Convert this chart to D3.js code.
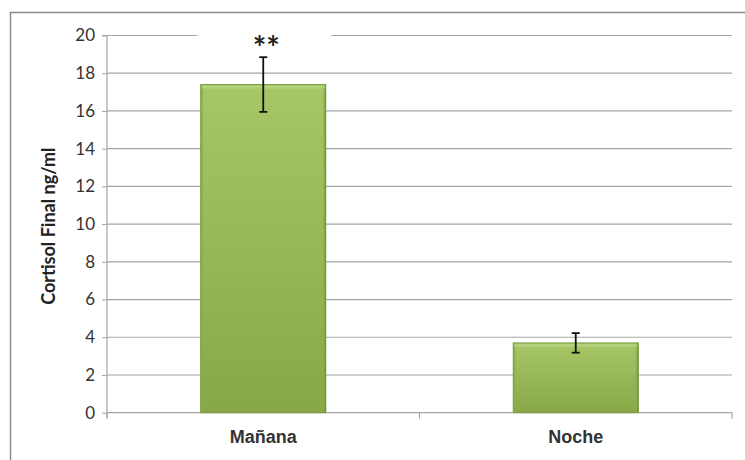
<!DOCTYPE html>
<html><head><meta charset="utf-8">
<script src="https://cdn.jsdelivr.net/npm/d3@7"></script>
<style>body{margin:0;background:#fff;}svg{display:block;font-family:Lato,"Open Sans",sans-serif;}</style>
</head><body><svg id="c" width="745" height="460"></svg>
<script>
const categories = ["Mañana", "Noche"];
const values = [17.4, 3.7];
const errors = [1.45, 0.52];
const marks = ["**", ""];
const yTicks = [0, 2, 4, 6, 8, 10, 12, 14, 16, 18, 20];
const yTitle = "Cortisol Final ng/ml";

const svg = d3.select("#c");
const m = {left: 107, right: 732, top: 35.5, bottom: 412.7};
const x = d3.scaleBand().domain(categories).range([m.left, m.right]).paddingInner(0.6).paddingOuter(0.3);
const y = d3.scaleLinear().domain([0, 20]).range([m.bottom, m.top]);

const defs = svg.append("defs");
const g1 = defs.append("linearGradient").attr("id","bg").attr("x1",0).attr("y1",0).attr("x2",0).attr("y2",1);
g1.append("stop").attr("offset","0%").attr("stop-color","#a6c668");
g1.append("stop").attr("offset","100%").attr("stop-color","#88a848");
const g2 = defs.append("linearGradient").attr("id","edge").attr("x1",0).attr("y1",0).attr("x2",1).attr("y2",0);
g2.append("stop").attr("offset","0%").attr("stop-color","#7f9f42");
g2.append("stop").attr("offset","3%").attr("stop-color","#9bbb59").attr("stop-opacity",0);
g2.append("stop").attr("offset","97%").attr("stop-color","#9bbb59").attr("stop-opacity",0);
g2.append("stop").attr("offset","100%").attr("stop-color","#6f8c35");

// outer border
svg.append("rect").attr("x",10.5).attr("y",12.5).attr("width",745).attr("height",460)
  .attr("fill","none").attr("stroke","#8c8c8c").attr("stroke-width",1.5);

// gridlines
svg.append("g").selectAll("line").data(yTicks.filter(d=>d>0)).join("line")
  .attr("x1",m.left).attr("x2",m.right).attr("y1",d=>y(d)).attr("y2",d=>y(d))
  .attr("stroke","#a6a6a6").attr("stroke-width",1.2);

// y axis
const ya = svg.append("g").attr("transform",`translate(${m.left},0)`)
  .call(d3.axisLeft(y).tickValues(yTicks).tickSize(5).tickPadding(7));
ya.select(".domain").attr("stroke","#a6a6a6").attr("stroke-width",1.2).attr("d",`M-5,${m.top}H0V${m.bottom+5}`);
ya.selectAll(".tick line").attr("stroke","#a6a6a6");
ya.selectAll("text").attr("font-size",17).attr("fill","#333").attr("font-family","Lato,sans-serif");

// x axis
const xa = svg.append("g").attr("transform",`translate(0,${m.bottom})`)
  .call(d3.axisBottom(x).tickSize(0).tickPadding(18));
xa.select(".domain").attr("stroke","#a6a6a6").attr("stroke-width",1.2).attr("d",`M${m.left},0H${m.right}`);
xa.selectAll(".tick text").attr("font-size",18).attr("font-weight","bold").attr("fill","#333");
const bounds = [m.left, (m.left+m.right)/2, m.right];
svg.append("g").selectAll("line").data(bounds).join("line")
  .attr("x1",d=>d).attr("x2",d=>d).attr("y1",m.bottom).attr("y2",m.bottom+6)
  .attr("stroke","#a6a6a6").attr("stroke-width",1.2);

// y title
svg.append("text").attr("transform",`translate(55,${(m.top+m.bottom)/2+2}) rotate(-90)`)
  .attr("text-anchor","middle").attr("font-size",18).attr("font-weight","bold").attr("fill","#222").text(yTitle);

// bars
const bars = svg.append("g").selectAll("g").data(categories).join("g");
bars.append("rect").attr("x",d=>x(d)).attr("y",(d,i)=>y(values[i])).attr("width",x.bandwidth())
  .attr("height",(d,i)=>y(0)-y(values[i])).attr("fill","url(#bg)").attr("stroke","#7a9a3e").attr("stroke-width",1);
bars.append("rect").attr("x",d=>x(d)).attr("y",(d,i)=>y(values[i])).attr("width",x.bandwidth())
  .attr("height",(d,i)=>y(0)-y(values[i])).attr("fill","url(#edge)");
bars.append("rect").attr("x",d=>x(d)+1).attr("y",(d,i)=>y(values[i])+1).attr("width",x.bandwidth()-2)
  .attr("height",3).attr("fill","#b7d37f").attr("opacity",0.8);

// error bars
const eb = svg.append("g").attr("stroke","#111").attr("stroke-width",1.8);
categories.forEach((c,i)=>{
  const cx = x(c)+x.bandwidth()/2;
  eb.append("line").attr("x1",cx).attr("x2",cx).attr("y1",y(values[i]+errors[i])).attr("y2",y(values[i]-errors[i]));
  eb.append("line").attr("x1",cx-4).attr("x2",cx+4).attr("y1",y(values[i]+errors[i])).attr("y2",y(values[i]+errors[i]));
  eb.append("line").attr("x1",cx-4).attr("x2",cx+4).attr("y1",y(values[i]-errors[i])).attr("y2",y(values[i]-errors[i]));
  if (marks[i]) {
    svg.append("rect").attr("x",cx-66).attr("y",y(20)-8).attr("width",134).attr("height",18).attr("fill","#fff");
    svg.append("text").attr("x",cx+3).attr("y",y(values[i]+errors[i])+3).attr("text-anchor","middle")
      .attr("font-size",32).attr("font-weight","bold").attr("fill","#222").text(marks[i]);
  }
});
</script></body></html>
